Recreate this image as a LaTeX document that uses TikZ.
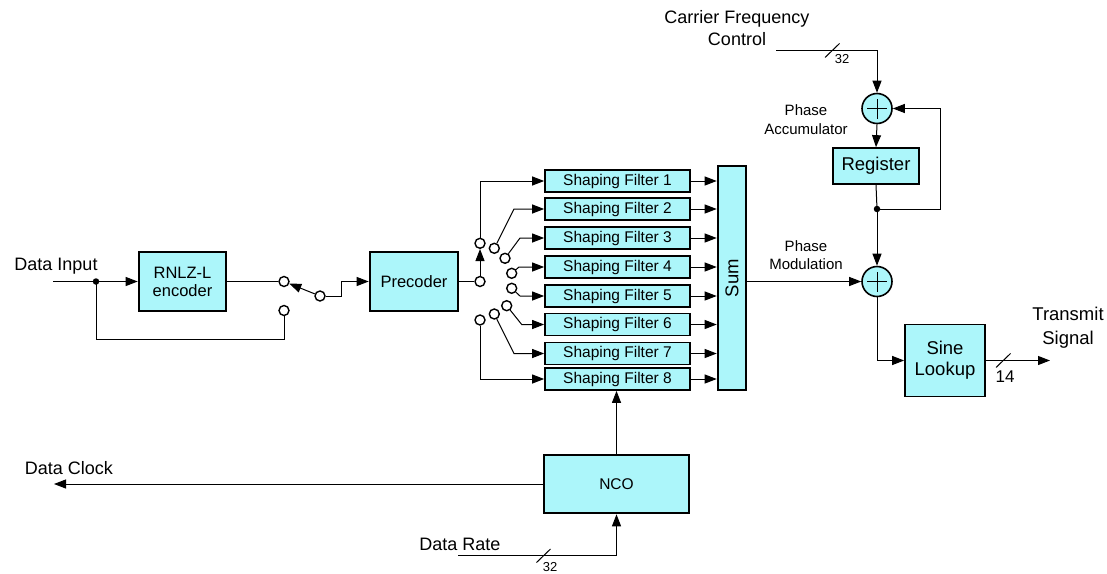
\documentclass[tikz,border=0pt]{standalone}
\usepackage{fontspec}
\setmainfont{Liberation Sans}
\usetikzlibrary{arrows.meta,calc}
\definecolor{cy}{RGB}{172,246,250}
\newcommand{\fsz}[2]{\fontsize{#1}{#2}\selectfont}
\begin{document}
\begin{tikzpicture}[x=1pt,y=-1pt,
  >={Triangle[length=12pt,width=9pt]},
  line width=1pt,
  blk/.style={draw=black,fill=cy,line width=2.6pt,inner sep=0pt,align=center},
  sbox/.style={draw=black,fill=cy,line width=1.7pt,inner sep=0pt,align=center},
  sf/.style={sbox,minimum width=145pt,minimum height=22pt,font=\fsz{15.5}{18}},
  adder/.style={circle,draw=black,fill=cy,line width=1.6pt,minimum size=30pt,inner sep=0pt,
    path picture={\draw[line width=0.8pt] (path picture bounding box.center) +(-10pt,0pt) -- +(10pt,0pt) +(0pt,-10pt) -- +(0pt,10pt);}},
  sw/.style={circle,draw=black,fill=white,line width=1.4pt,minimum size=10pt,inner sep=0pt},
  dotn/.style={circle,fill=black,minimum size=6.5pt,inner sep=0pt},
  lbl/.style={inner sep=0pt,align=center,font=\fsz{18}{22}},
  small/.style={inner sep=0pt,align=center,font=\fsz{15}{18.5}},
]
\useasboundingbox (0,0) rectangle (1107,573);

% blocks
\node[blk,minimum width=87pt,minimum height=59pt,font=\fsz{16.5}{18}] (rnlz) at (182.5,281.5) {RNLZ-L\\encoder};
\node[blk,minimum width=88pt,minimum height=59pt,font=\fsz{16.5}{18}] (prec) at (414,281.5) {Precoder};
\node[sf] (sf1) at (617.5,181) {Shaping Filter 1};
\node[sf] (sf2) at (617.5,209) {Shaping Filter 2};
\node[sf] (sf3) at (617.5,238) {Shaping Filter 3};
\node[sf] (sf4) at (617.5,267) {Shaping Filter 4};
\node[sf] (sf5) at (617.5,296) {Shaping Filter 5};
\node[sf] (sf6) at (617.5,324.5) {Shaping Filter 6};
\node[sf] (sf7) at (617.5,353.5) {Shaping Filter 7};
\node[sf] (sf8) at (617.5,379) {Shaping Filter 8};
\node[blk,minimum width=28pt,minimum height=224pt] (sum) at (732,278) {};
\node[rotate=90,inner sep=0pt,font=\fsz{18.5}{20}] (sumlbl) at (sum.center) {Sum};
\node[sbox,minimum width=86pt,minimum height=36pt,font=\fsz{18.5}{20}] (reg) at (876,166) {Register};
\node[sbox,minimum width=80pt,minimum height=72pt,font=\fsz{18.5}{21}] (sine) at (945,360.5) {Sine\\Lookup};
\node[blk,minimum width=145pt,minimum height=58pt,font=\fsz{15.5}{18}] (nco) at (616.5,484) {NCO};
\node[adder] (add1) at (877,108.5) {};
\node[adder] (add2) at (877,281.5) {};

% switches
\node[sw] (swA) at (284,281.5) {};
\node[sw] (swB) at (284,310.5) {};
\node[sw] (swP) at (320,296) {};
\node[sw] (c0) at (480,281.5) {};
\node[sw] (c1) at (480,243.3) {};
\node[sw] (f2) at (494.3,248.3) {};
\node[sw] (f3) at (505,258.3) {};
\node[sw] (f4) at (511.7,273.3) {};
\node[sw] (f5) at (511.7,288.3) {};
\node[sw] (f6) at (506.7,305.7) {};
\node[sw] (f7) at (494.3,314) {};
\node[sw] (f8) at (480,320) {};

\node[dotn] (dot1) at (96,281.5) {};
\node[dotn] (dot2) at (877,209) {};

% labels
\node[lbl] (dintxt) at (56,266) {Data Input};
\node[lbl] (cfctxt) at (737,28.5) {Carrier Frequency\\Control};
\node[small] (patxt) at (806,119.5) {Phase\\Accumulator};
\node[small] (pmtxt) at (806,255) {Phase\\Modulation};
\node[lbl,font=\fsz{18.5}{24}] (txtxt) at (1068,328) {Transmit\\Signal};
\node[inner sep=0pt,font=\fsz{17}{20}] (n14) at (1005,377) {14};
\node[inner sep=0pt,font=\fsz{13}{15}] (n32a) at (842,59) {32};
\node[inner sep=0pt,font=\fsz{13}{15}] (n32b) at (550,567) {32};
\node[lbl] (dclktxt) at (69,468) {Data Clock};
\node[lbl] (dratetxt) at (460,544) {Data Rate};

\coordinate (din) at (53,281.5);
\coordinate (cfc) at (776,50.5);
\coordinate (tx) at (1050,360.5);
\coordinate (dclk) at (54,484);
\coordinate (drate) at (458,555);

% connectors
\draw[->] (din) -- (rnlz.west);
\draw (dot1.center) -- (96,339) -| (swB.south);
\draw (rnlz.east) -- (swA.west);
\draw[->] (swP) -- (swA);
\draw[->] (swP.east) -- (341,296) |- (prec.west);
\draw (prec.east) -- (c0.west);
\draw[->] (c0) -- (c1);
\draw[->] (c1.north) |- (sf1.west);
\draw[->] (f2) -- (514,209) -- (sf2.west);
\draw[->] (f3) -- (520,238) -- (sf3.west);
\draw[->] (f4) -- (519,267) -- (sf4.west);
\draw[->] (f5) -- (520,296) -- (sf5.west);
\draw[->] (f6) -- (521.7,324.5) -- (sf6.west);
\draw[->] (f7) -- (514,353.5) -- (sf7.west);
\draw[->] (f8.south) |- (sf8.west);
\foreach \i in {1,...,8} \draw[->] (sf\i.east) -- (sf\i.east -| sum.west);
\draw[->] (sum.east |- add2) -- (add2.west);

\draw[->] (cfc) -| (add1.north);
\draw (825,57.5) -- (839.5,43.5);
\draw[->] (add1.south) -- (reg.north);
\draw (reg.south) -- (dot2.center);
\draw[->] (dot2.center) -- (940.5,209) |- (add1.east);
\draw[->] (dot2.center) -- (add2.north);
\draw[->] (add2.south) |- (sine.west);
\draw[->] (sine.east) -- (tx);
\draw (996,367.5) -- (1010.5,353.5);

\draw[->] (nco.north) -- (nco.north |- sf8.south);
\draw[->] (nco.west) -- (dclk);
\draw[->] (drate) -| (nco.south);
\draw (536.5,562.5) -- (550.5,549);
\end{tikzpicture}
\end{document}
